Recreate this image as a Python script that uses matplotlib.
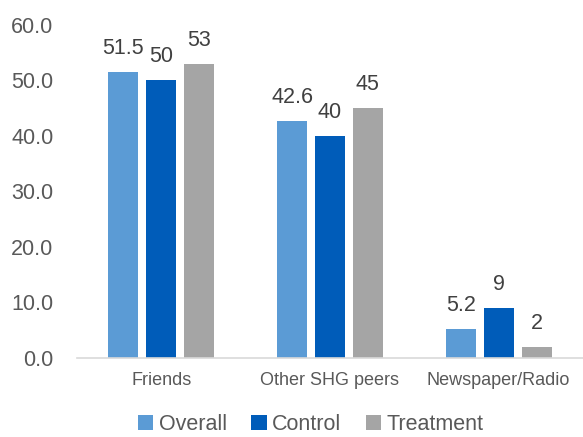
import matplotlib
matplotlib.use("Agg")
import matplotlib.pyplot as plt
import numpy as np

categories = ["Friends", "Other SHG peers", "Newspaper/Radio"]
series_names = ["Overall", "Control", "Treatment"]
overall = [51.5, 42.6, 5.2]
control = [50, 40, 9]
treatment = [53, 45, 2]
value_labels = [["51.5", "42.6", "5.2"], ["50", "40", "9"], ["53", "45", "2"]]
y_ticks = [0, 10, 20, 30, 40, 50, 60]
y_tick_labels = ["0.0", "10.0", "20.0", "30.0", "40.0", "50.0", "60.0"]

colors = ["#5B9BD5", "#005CB9", "#A5A5A5"]
text_color = "#595959"

plt.rcParams["font.family"] = ["Liberation Sans", "DejaVu Sans"]

fig = plt.figure(figsize=(5.83, 4.37), dpi=100)
ax = fig.add_axes([0.132, 0.181, 0.868, 0.762])

x = np.arange(len(categories))
width = 0.178
step = 0.225
all_series = [overall, control, treatment]
for i, (name, vals, col) in enumerate(zip(series_names, all_series, colors)):
    pos = x + (i - 1) * step
    ax.bar(pos, vals, width=width, color=col, label=name, zorder=2)
    for px, v, lab in zip(pos, vals, value_labels[i]):
        ax.annotate(lab, (px, v), xytext=(0, 13), textcoords="offset points",
                    ha="center", va="baseline", fontsize=15.5, color="#404040")

ax.set_xlim(-0.5, len(categories) - 0.5)
ax.set_ylim(0, 60)
ax.set_yticks(y_ticks)
ax.set_yticklabels(y_tick_labels, fontsize=15.5, color=text_color)
ax.set_xticks(x)
ax.set_xticklabels(categories, fontsize=13, color=text_color)
ax.tick_params(axis="both", length=0)
ax.tick_params(axis="y", pad=17)
ax.tick_params(axis="x", pad=10)
for side in ["top", "right", "left"]:
    ax.spines[side].set_visible(False)
ax.spines["bottom"].set_color("#D9D9D9")
ax.spines["bottom"].set_linewidth(1.2)

leg = fig.legend(loc="lower center", bbox_to_anchor=(0.533, -0.04), ncol=3,
                 frameon=False, fontsize=15.5, handlelength=0.7, handleheight=0.7,
                 handletextpad=0.25, columnspacing=1.15)
for t in leg.get_texts():
    t.set_color(text_color)

fig.savefig("out.png", dpi=100)
